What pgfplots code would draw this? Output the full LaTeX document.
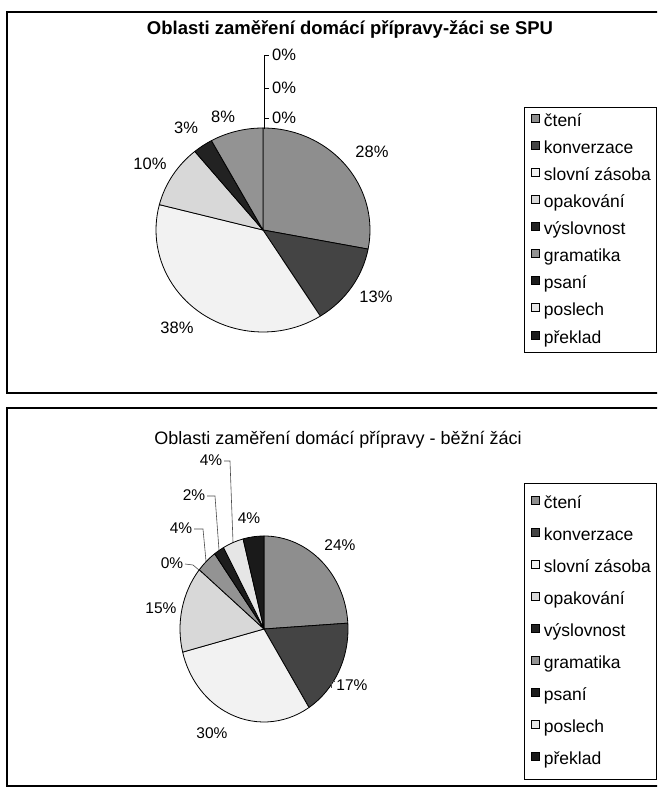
\documentclass[border=0pt]{standalone}
\usepackage{pgfplots}
\pgfplotsset{compat=1.18}
\usepackage{fontspec}
\setmainfont{Liberation Sans}
\definecolor{cten}{HTML}{8E8E8E}
\definecolor{konv}{HTML}{444444}
\definecolor{slov}{HTML}{F2F2F2}
\definecolor{opak}{HTML}{D8D8D8}
\definecolor{vysl}{HTML}{222222}
\definecolor{gram}{HTML}{939393}
\definecolor{psani}{HTML}{1C1C1C}
\definecolor{posl}{HTML}{E6E6E6}
\definecolor{prek}{HTML}{1A1A1A}
% slice: cx, cy(px, negative), rx, ry, cumulative start %, value %, colour
\newcommand{\pieslice}[7]{%
  \filldraw[fill=#7, draw=black, line width=0.8pt, line join=round]
    (axis cs:#1,#2) -- ++({90-3.6*(#5)}:#3pt and #4pt)
    arc[start angle={90-3.6*(#5)}, end angle={90-3.6*((#5)+(#6))}, x radius=#3pt, y radius=#4pt] -- cycle;}
\newcommand{\lab}{\fontsize{16.5}{19}\selectfont}
\newcommand{\labb}{\fontsize{15.5}{18}\selectfont}
\pgfplotsset{
  panel/.style={scale only axis, width=657pt, xmin=0, xmax=657, hide axis, clip=false,
    legend cell align=left,
    legend image code/.code={\path (0pt,0pt) (14pt,0pt); \draw[##1, draw=black, line width=0.5pt] (3pt,-0.5pt) rectangle (11pt,7.5pt);},
    legend style={draw=black, line width=0.6pt, fill=white, anchor=north west,
      font=\fontsize{17.5}{19}\selectfont, inner xsep=4pt,
      nodes={inner sep=1pt, text height=13pt, text depth=3.5pt}}},
}
\begin{document}
\begin{tikzpicture}
\useasboundingbox (0,0) rectangle (657pt,790pt);
\clip (0,0) rectangle (657pt,790pt);
\fill[white] (0,0) rectangle (657pt,790pt);
% ---------------- top panel ----------------
\begin{axis}[panel, height=400pt, ymin=-400, ymax=0, at={(0pt,390pt)}, anchor=south west,
  legend style={at={(524/657,1-107/400)}, inner ysep=5pt, row sep=8.6pt}]
\draw[line width=1.6pt] (axis cs:680,-12) -- (axis cs:7,-12) -- (axis cs:7,-393) -- (axis cs:680,-393);
\node[font=\bfseries\fontsize{18.5}{21}\selectfont, anchor=base] at (axis cs:350,-35) {Oblasti zaměření domácí přípravy-žáci se SPU};
% values (%) : čtení 28, konverzace 13, slovní zásoba 38, opakování 10, výslovnost 3, gramatika 8, psaní 0, poslech 0, překlad 0
\pieslice{263}{-230}{107}{102}{0}{28}{cten}
\pieslice{263}{-230}{107}{102}{28}{13}{konv}
\pieslice{263}{-230}{107}{102}{41}{38}{slov}
\pieslice{263}{-230}{107}{102}{79}{10}{opak}
\pieslice{263}{-230}{107}{102}{89}{3}{vysl}
\pieslice{263}{-230}{107}{102}{92}{8}{gram}
\draw[line width=0.8pt] (axis cs:264,-129) -- (axis cs:264,-55);
\draw[line width=0.8pt] (axis cs:264,-55) -- (axis cs:269,-55);
\draw[line width=0.8pt] (axis cs:264,-88) -- (axis cs:269,-88);
\draw[line width=0.8pt] (axis cs:264,-118) -- (axis cs:269,-118);
\node[font=\lab, anchor=west, inner sep=0pt] at (axis cs:272,-55) {0\%};
\node[font=\lab, anchor=west, inner sep=0pt] at (axis cs:272,-88) {0\%};
\node[font=\lab, anchor=west, inner sep=0pt] at (axis cs:272,-118) {0\%};
\node[font=\lab] at (axis cs:372,-152) {28\%};
\node[font=\lab] at (axis cs:376,-297) {13\%};
\node[font=\lab] at (axis cs:177,-328) {38\%};
\node[font=\lab] at (axis cs:150,-164) {10\%};
\node[font=\lab] at (axis cs:186,-128) {3\%};
\node[font=\lab] at (axis cs:223,-117) {8\%};
\addlegendimage{fill=cten}\addlegendentry{čtení}
\addlegendimage{fill=konv}\addlegendentry{konverzace}
\addlegendimage{fill=slov}\addlegendentry{slovní zásoba\hspace{12pt}}
\addlegendimage{fill=opak}\addlegendentry{opakování}
\addlegendimage{fill=vysl}\addlegendentry{výslovnost}
\addlegendimage{fill=gram}\addlegendentry{gramatika}
\addlegendimage{fill=psani}\addlegendentry{psaní}
\addlegendimage{fill=posl}\addlegendentry{poslech}
\addlegendimage{fill=prek}\addlegendentry{překlad}
\end{axis}
% ---------------- bottom panel ----------------
\begin{axis}[panel, height=390pt, ymin=-790, ymax=-400, at={(0pt,0pt)}, anchor=south west,
  legend style={at={(524/657,1-83/390)}, inner ysep=11pt, row sep=13.5pt}]
\draw[line width=1.6pt] (axis cs:680,-408) -- (axis cs:7,-408) -- (axis cs:7,-786) -- (axis cs:680,-786);
\node[font=\fontsize{18}{21}\selectfont, anchor=base] at (axis cs:338,-445) {Oblasti zaměření domácí přípravy - běžní žáci};
% values (%) : čtení 24, konverzace 17, slovní zásoba 30, opakování 15, výslovnost 0, gramatika 4, psaní 2, poslech 4, překlad 4
\pieslice{264}{-629}{84}{93}{0}{24}{cten}
\pieslice{264}{-629}{84}{93}{24}{17}{konv}
\pieslice{264}{-629}{84}{93}{41}{30}{slov}
\pieslice{264}{-629}{84}{93}{71}{15}{opak}
\pieslice{264}{-629}{84}{93}{86}{4}{gram}
\pieslice{264}{-629}{84}{93}{90}{2}{psani}
\pieslice{264}{-629}{84}{93}{92}{4}{posl}
\pieslice{264}{-629}{84}{93}{96}{4}{prek}
\draw[line width=0.6pt, black!70] (axis cs:185,-564) -- (axis cs:193,-565) -- (axis cs:199,-570);
\draw[line width=0.6pt, black!70] (axis cs:194,-529) -- (axis cs:203,-529) -- (axis cs:206,-561);
\draw[line width=0.6pt, black!70] (axis cs:207,-496) -- (axis cs:215,-496) -- (axis cs:219,-550);
\draw[line width=0.6pt, black!70] (axis cs:224,-461) -- (axis cs:230,-461) -- (axis cs:233,-542);
\draw[line width=0.6pt, black!70] (axis cs:335,-681) -- (axis cs:331,-681) -- (axis cs:331,-688);
\node[font=\labb] at (axis cs:340,-545) {24\%};
\node[font=\labb] at (axis cs:352,-685) {17\%};
\node[font=\labb] at (axis cs:212,-733) {30\%};
\node[font=\labb] at (axis cs:161,-608) {15\%};
\node[font=\labb] at (axis cs:172,-563) {0\%};
\node[font=\labb] at (axis cs:181,-528) {4\%};
\node[font=\labb] at (axis cs:194,-495) {2\%};
\node[font=\labb] at (axis cs:211,-460) {4\%};
\node[font=\labb] at (axis cs:249,-518) {4\%};
\addlegendimage{fill=cten}\addlegendentry{čtení}
\addlegendimage{fill=konv}\addlegendentry{konverzace}
\addlegendimage{fill=slov}\addlegendentry{slovní zásoba\hspace{12pt}}
\addlegendimage{fill=opak}\addlegendentry{opakování}
\addlegendimage{fill=vysl}\addlegendentry{výslovnost}
\addlegendimage{fill=gram}\addlegendentry{gramatika}
\addlegendimage{fill=psani}\addlegendentry{psaní}
\addlegendimage{fill=posl}\addlegendentry{poslech}
\addlegendimage{fill=prek}\addlegendentry{překlad}
\end{axis}
\end{tikzpicture}
\end{document}
